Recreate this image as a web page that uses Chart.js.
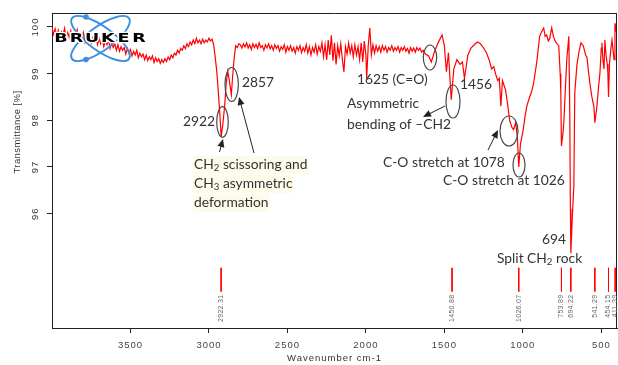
<!DOCTYPE html>
<html>
<head>
<meta charset="utf-8">
<script src="https://cdn.jsdelivr.net/npm/chart.js@4.4.1/dist/chart.umd.min.js"></script>
<style>
  html, body { margin: 0; padding: 0; background: #fff; }
</style>
</head>
<body>
<canvas id="ir" width="618" height="365"></canvas>
<script>
// ── DATA ─────────────────────────────────────────────────────────────────────
const wavenumbers = [
  4000, 3990, 3980, 3970, 3960, 3950, 3940, 3930, 3920, 3910,
  3900, 3890, 3880, 3870, 3860, 3850, 3840, 3830, 3820, 3810,
  3800, 3790, 3780, 3770, 3760, 3750, 3740, 3730, 3720, 3710,
  3700, 3690, 3680, 3670, 3660, 3650, 3640, 3630, 3620, 3610,
  3600, 3590, 3580, 3570, 3560, 3550, 3540, 3530, 3520, 3510,
  3500, 3490, 3480, 3470, 3460, 3450, 3440, 3430, 3420, 3410,
  3400, 3390, 3380, 3370, 3360, 3350, 3340, 3330, 3320, 3310,
  3300, 3290, 3280, 3270, 3260, 3250, 3240, 3230, 3220, 3210,
  3200, 3190, 3180, 3170, 3160, 3150, 3140, 3130, 3120, 3110,
  3100, 3090, 3080, 3070, 3060, 3050, 3040, 3030, 3020, 3010,
  3000, 2990, 2980, 2970, 2960, 2950, 2940, 2930, 2922, 2912,
  2900, 2890, 2880, 2870, 2857, 2850, 2840, 2830, 2820, 2810,
  2800, 2790, 2780, 2770, 2760, 2750, 2740, 2730, 2720, 2710,
  2700, 2690, 2680, 2670, 2660, 2650, 2640, 2630, 2620, 2610,
  2600, 2590, 2580, 2570, 2560, 2550, 2540, 2530, 2520, 2510,
  2500, 2490, 2480, 2470, 2460, 2450, 2440, 2430, 2420, 2410,
  2400, 2390, 2380, 2370, 2360, 2350, 2340, 2330, 2320, 2310,
  2300, 2290, 2280, 2270, 2260, 2250, 2240, 2230, 2220, 2210,
  2200, 2190, 2180, 2170, 2160, 2150, 2140, 2130, 2120, 2110,
  2100, 2090, 2080, 2070, 2060, 2050, 2040, 2030, 2020, 2010,
  2000, 1995, 1985, 1975, 1965, 1955, 1945, 1935, 1925, 1915,
  1905, 1895, 1885, 1875, 1865, 1855, 1845, 1835, 1825, 1815,
  1805, 1795, 1785, 1775, 1765, 1755, 1745, 1735, 1725, 1715,
  1705, 1695, 1685, 1675, 1665, 1655, 1645, 1635, 1620, 1600,
  1583, 1565, 1540, 1515, 1500, 1487, 1474, 1456, 1440, 1420,
  1400, 1385, 1372, 1350, 1330, 1310, 1290, 1270, 1250, 1232,
  1215, 1199, 1185, 1174, 1160, 1150, 1140, 1130, 1110, 1095,
  1084, 1070, 1059, 1046, 1035, 1026, 1015, 1000, 985, 975,
  957, 945, 931, 912, 893, 880, 867, 858, 848, 838,
  829, 816, 805, 797, 785, 771, 762, 758, 754, 745,
  738, 730, 720, 707, 701, 697, 694, 685, 675, 669,
  655, 643, 630, 615, 600, 592, 580, 573, 560, 547,
  541, 528, 518, 509, 500, 496, 490, 483, 477, 470,
  462, 458, 454, 448, 440, 432, 425, 419, 413, 406,
  400
];
const transmittance = [
  99.98, 99.84, 99.96, 99.80, 99.93, 99.76, 99.90, 99.82, 99.97, 99.74,
  99.88, 99.78, 99.92, 99.72, 99.86, 99.80, 99.94, 99.70, 99.84, 99.76,
  99.88, 99.68, 99.82, 99.72, 99.86, 99.66, 99.78, 99.70, 99.80, 99.62,
  99.76, 99.64, 99.74, 99.58, 99.70, 99.62, 99.72, 99.54, 99.66, 99.56,
  99.64, 99.50, 99.62, 99.48, 99.58, 99.50, 99.56, 99.42, 99.54, 99.44,
  99.52, 99.38, 99.48, 99.40, 99.50, 99.34, 99.44, 99.36, 99.42, 99.30,
  99.40, 99.28, 99.36, 99.30, 99.38, 99.24, 99.34, 99.26, 99.32, 99.22,
  99.30, 99.24, 99.32, 99.26, 99.36, 99.30, 99.40, 99.34, 99.44, 99.40,
  99.50, 99.44, 99.54, 99.50, 99.60, 99.54, 99.64, 99.58, 99.68, 99.62,
  99.72, 99.64, 99.76, 99.66, 99.72, 99.64, 99.74, 99.66, 99.72, 99.68,
  99.76, 99.70, 99.74, 99.62, 99.35, 99.05, 98.60, 98.10, 97.65, 97.90,
  98.30, 98.80, 99.05, 98.85, 98.55, 98.90, 99.30, 99.60, 99.56, 99.64,
  99.62, 99.55, 99.64, 99.57, 99.66, 99.55, 99.62, 99.52, 99.64, 99.56,
  99.63, 99.54, 99.66, 99.56, 99.60, 99.50, 99.62, 99.55, 99.64, 99.53,
  99.60, 99.50, 99.62, 99.54, 99.60, 99.48, 99.58, 99.52, 99.62, 99.46,
  99.58, 99.50, 99.60, 99.48, 99.56, 99.44, 99.58, 99.50, 99.60, 99.45,
  99.56, 99.48, 99.62, 99.44, 99.58, 99.40, 99.56, 99.46, 99.62, 99.42,
  99.58, 99.48, 99.66, 99.36, 99.62, 99.30, 99.72, 99.40, 99.82, 99.28,
  99.66, 99.20, 99.60, 99.38, 99.64, 99.30, 99.04, 99.58, 99.42, 99.66,
  99.44, 99.60, 99.36, 99.62, 99.40, 99.58, 99.30, 99.66, 99.25, 99.70,
  99.40, 98.90, 99.60, 99.98, 99.40, 99.62, 99.44, 99.60, 99.48, 99.58,
  99.46, 99.60, 99.50, 99.58, 99.46, 99.56, 99.50, 99.60, 99.48, 99.56,
  99.50, 99.58, 99.46, 99.56, 99.50, 99.58, 99.48, 99.54, 99.44, 99.56,
  99.48, 99.55, 99.46, 99.56, 99.50, 99.55, 99.46, 99.50, 99.42, 99.38,
  99.25, 99.45, 99.66, 99.83, 99.60, 99.04, 99.45, 98.44, 99.10, 99.30,
  99.20, 99.25, 98.90, 99.40, 99.55, 99.62, 99.68, 99.64, 99.55, 99.45,
  99.30, 99.10, 99.15, 99.00, 98.85, 98.90, 98.30, 98.85, 98.65, 98.30,
  98.00, 97.85, 97.80, 97.95, 97.64, 97.00, 97.50, 97.75, 98.10, 98.30,
  98.50, 98.60, 98.80, 99.23, 99.80, 99.90, 99.98, 99.80, 99.83, 99.70,
  99.75, 99.98, 99.80, 99.72, 99.65, 99.60, 99.00, 98.60, 97.45, 97.70,
  98.00, 98.60, 99.30, 99.80, 98.20, 96.10, 95.15, 95.90, 96.60, 98.60,
  99.20, 99.45, 99.66, 99.60, 99.40, 99.36, 99.00, 98.80, 98.50, 98.29,
  97.95, 98.30, 98.70, 99.00, 99.55, 99.66, 99.30, 99.10, 99.72, 99.40,
  99.20, 99.00, 98.50, 99.20, 99.50, 99.72, 99.50, 99.30, 100.08, 99.90,
  100.30
];

// peak-pick list printed under the spectrum
const peakPositions = [2922.31, 1450.88, 1026.07, 753.89, 694.22, 541.29, 454.15, 411.39];
const peakLabels = ['2922.31', '1450.88', '1026.07', '753.89', '694.22', '541.29', '454.15', '411.39'];
const stickTop = 94.84;
const stickBottom = 94.33;

const xTicks = [3500, 3000, 2500, 2000, 1500, 1000, 500];
const yTicks = [96, 97, 98, 99, 100];

// ── DRAW HELPERS ─────────────────────────────────────────────────────────────
const ANN_FONT = 'Lato';
const ANN_SIZE = 13.8;
const ANN_COLOR = '#333';

// runs: strings, a leading "_" marks a subscript
function runsWidth(ctx, runs) {
  let w = 0;
  runs.forEach(r => {
    const sub = r.startsWith('_');
    ctx.font = `${sub ? ANN_SIZE * 0.7 : ANN_SIZE}px ${ANN_FONT}`;
    w += ctx.measureText(sub ? r.slice(1) : r).width;
  });
  return w;
}

function drawRuns(ctx, runs, x, y, highlight) {
  if (highlight) {
    ctx.fillStyle = highlight;
    ctx.fillRect(x - 1, y - 9, runsWidth(ctx, runs) + 2, 18);
  }
  ctx.fillStyle = ANN_COLOR;
  ctx.textBaseline = 'middle';
  ctx.textAlign = 'left';
  let cx = x;
  runs.forEach(r => {
    const sub = r.startsWith('_');
    const t = sub ? r.slice(1) : r;
    ctx.font = `${sub ? ANN_SIZE * 0.7 : ANN_SIZE}px ${ANN_FONT}`;
    ctx.fillText(t, cx, sub ? y + 3 : y);
    cx += ctx.measureText(t).width;
  });
}

function ring(ctx, cx, cy, rx, ry) {
  ctx.beginPath();
  ctx.ellipse(cx, cy, rx, ry, 0, 0, Math.PI * 2);
  ctx.strokeStyle = '#4a4a4a';
  ctx.lineWidth = 1.2;
  ctx.stroke();
}

function arrow(ctx, x1, y1, x2, y2) {
  const a = Math.atan2(y2 - y1, x2 - x1);
  ctx.strokeStyle = '#222';
  ctx.fillStyle = '#222';
  ctx.lineWidth = 1;
  ctx.beginPath();
  ctx.moveTo(x1, y1);
  ctx.lineTo(x2 - 5 * Math.cos(a), y2 - 5 * Math.sin(a));
  ctx.stroke();
  ctx.beginPath();
  ctx.moveTo(x2, y2);
  ctx.lineTo(x2 - 8 * Math.cos(a) + 3.5 * Math.sin(a), y2 - 8 * Math.sin(a) - 3.5 * Math.cos(a));
  ctx.lineTo(x2 - 8 * Math.cos(a) - 3.5 * Math.sin(a), y2 - 8 * Math.sin(a) + 3.5 * Math.cos(a));
  ctx.closePath();
  ctx.fill();
}

function brukerLogo(ctx) {
  ctx.save();
  ctx.strokeStyle = '#3d8fe0';
  ctx.lineWidth = 2;
  [0.62, -0.62].forEach(rot => {
    ctx.beginPath();
    ctx.ellipse(100.5, 38.5, 35, 12, rot, 0, Math.PI * 2);
    ctx.stroke();
  });
  ctx.fillStyle = '#3d8fe0';
  [[86, 17], [86, 59.5]].forEach(([x, y]) => {
    ctx.beginPath(); ctx.arc(x, y, 2.8, 0, Math.PI * 2); ctx.fill();
  });
  ctx.font = 'bold 13px "DejaVu Sans"';
  ctx.textAlign = 'center';
  ctx.textBaseline = 'middle';
  ctx.lineJoin = 'round';
  'BRUKER'.split('').forEach((ch, i) => {
    const x = 61 + i * 15.6;
    ctx.save();
    ctx.translate(x, 38.5);
    ctx.scale(1.35, 1);
    ctx.strokeStyle = '#fff';
    ctx.lineWidth = 2.5;
    ctx.strokeText(ch, 0, 0);
    ctx.fillStyle = '#000';
    ctx.fillText(ch, 0, 0);
    ctx.restore();
  });
  ctx.restore();
}

// ── PLUGINS ──────────────────────────────────────────────────────────────────
const framePlugin = {
  id: 'frame',
  beforeDraw(chart) {
    chart.ctx.letterSpacing = '1px';  // spaced-out OPUS axis lettering
  },
  afterDraw(chart) {
    const { ctx, chartArea: a, scales: { x, y } } = chart;
    ctx.save();
    ctx.strokeStyle = '#222';
    ctx.lineWidth = 1;
    ctx.beginPath();
    ctx.moveTo(a.left, Math.round(a.top) + 0.5);
    ctx.lineTo(a.right, Math.round(a.top) + 0.5);
    ctx.moveTo(Math.round(a.right) - 0.5, a.top);
    ctx.lineTo(Math.round(a.right) - 0.5, a.bottom);
    ctx.stroke();

    // vertical y tick labels + axis title
    ctx.fillStyle = '#333';
    ctx.font = '9.5px "Liberation Sans"';
    ctx.textAlign = 'center';
    ctx.textBaseline = 'middle';
    ctx.letterSpacing = '1px';
    yTicks.forEach(v => {
      ctx.save();
      ctx.translate(35, y.getPixelForValue(v));
      ctx.rotate(-Math.PI / 2);
      ctx.fillText(String(v), 0, 0);
      ctx.restore();
    });
    ctx.save();
    ctx.font = '9.5px "Liberation Sans"';
    ctx.letterSpacing = '0.4px';
    ctx.translate(17, 132);
    ctx.rotate(-Math.PI / 2);
    ctx.fillText('Transmittance [%]', 0, 0);
    ctx.restore();

    // peak-pick labels under the sticks
    ctx.fillStyle = '#666';
    ctx.font = '7px "Liberation Sans"';
    ctx.letterSpacing = '0.3px';
    ctx.textAlign = 'right';
    const yb = y.getPixelForValue(stickBottom) + 3;
    ctx.beginPath();
    ctx.rect(a.left, a.top, a.right - a.left, a.bottom - a.top);
    ctx.clip();
    peakPositions.forEach((p, i) => {
      ctx.save();
      ctx.translate(x.getPixelForValue(p), yb);
      ctx.rotate(-Math.PI / 2);
      ctx.fillText(peakLabels[i], 0, 0);
      ctx.restore();
    });
    ctx.restore();

    // annotations
    ctx.save();
    ctx.letterSpacing = '0px';
    brukerLogo(ctx);
    ring(ctx, 222.5, 122, 5.8, 15.3);
    ring(ctx, 231.7, 84.5, 6.7, 17);
    ring(ctx, 430, 57.5, 6.7, 12.5);
    ring(ctx, 453, 101.5, 7, 16.5);
    ring(ctx, 509, 131, 9, 15);
    ring(ctx, 519, 165, 6, 12);
    arrow(ctx, 219.5, 152, 223, 139);
    arrow(ctx, 254, 153, 239, 97);
    arrow(ctx, 445, 106, 423, 117);
    arrow(ctx, 488, 150, 498, 130);
    drawRuns(ctx, ['2922'], 183, 122);
    drawRuns(ctx, ['2857'], 242, 83);
    drawRuns(ctx, ['1625 (C=O)'], 357, 80);
    drawRuns(ctx, ['1456'], 460, 85);
    drawRuns(ctx, ['Asymmetric'], 347, 104);
    drawRuns(ctx, ['bending of \u2013CH2'], 347, 125);
    drawRuns(ctx, ['C-O stretch at 1078'], 383, 163);
    drawRuns(ctx, ['C-O stretch at 1026'], 443, 181);
    drawRuns(ctx, ['694'], 542, 240);
    drawRuns(ctx, ['Split CH', '_2', ' rock'], 497, 259);
    const hl = '#fffbea';
    drawRuns(ctx, ['CH', '_2', ' scissoring and'], 194, 165, hl);
    drawRuns(ctx, ['CH', '_3', ' asymmetric'], 194, 184, hl);
    drawRuns(ctx, ['deformation'], 194, 203, hl);
    ctx.restore();
  }
};

// ── CHART ────────────────────────────────────────────────────────────────────
const spectrum = wavenumbers.map((w, i) => ({ x: w, y: transmittance[i] }));
const sticks = peakPositions.flatMap(p => [{ x: p, y: stickTop }, { x: p, y: stickBottom }, { x: p, y: null }]);

new Chart(document.getElementById('ir').getContext('2d'), {
  type: 'line',
  data: {
    datasets: [
      { data: spectrum, borderColor: '#ff0000', borderWidth: 1.2, pointRadius: 0, tension: 0 },
      { data: sticks, borderColor: '#ff0000', borderWidth: 1, pointRadius: 0, spanGaps: false }
    ]
  },
  options: {
    responsive: false,
    animation: false,
    layout: { padding: { top: 13, right: 1, left: 0, bottom: 0 } },
    plugins: { legend: { display: false }, tooltip: { enabled: false } },
    scales: {
      x: {
        type: 'linear', reverse: true, min: 400, max: 4000,
        afterBuildTicks: s => { s.ticks = xTicks.map(v => ({ value: v })); },
        afterFit: s => { s.height = 37; },
        ticks: {
          color: '#444', font: { family: 'Liberation Sans', size: 9.5 }, padding: 7, maxRotation: 0,
          callback: v => String(v)
        },
        grid: { drawOnChartArea: false, tickLength: 5, color: '#222' },
        border: { color: '#222' },
        title: { display: true, text: 'Wavenumber cm-1', color: '#333', font: { family: 'Liberation Sans', size: 9.5 }, padding: { top: 0, bottom: 1 } }
      },
      y: {
        min: 93.55, max: 100.3,
        afterBuildTicks: s => { s.ticks = yTicks.map(v => ({ value: v })); },
        afterFit: s => { s.width = 52; },
        ticks: { display: false },
        grid: { drawOnChartArea: false, tickLength: 5, color: '#222' },
        border: { color: '#222' }
      }
    }
  },
  plugins: [framePlugin]
});
</script>
</body>
</html>
